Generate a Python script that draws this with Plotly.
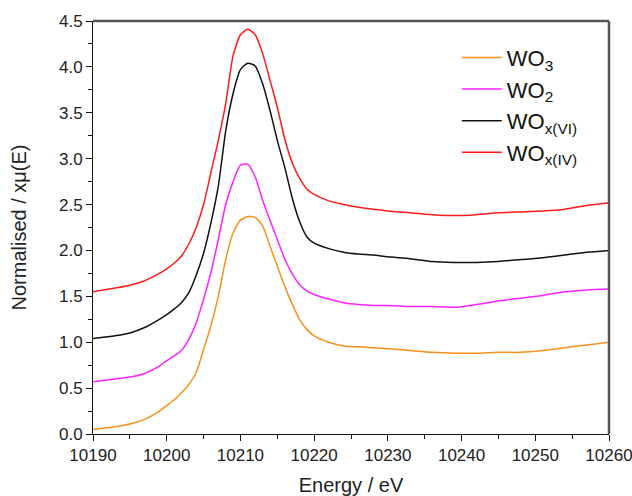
import plotly.graph_objects as go

energy = [10190, 10193, 10195, 10197, 10199, 10200, 10201, 10202, 10203, 10204,
          10205, 10206, 10207, 10208, 10209, 10210, 10211, 10212, 10213, 10214,
          10215, 10216, 10217, 10218, 10219, 10220, 10222, 10224, 10226, 10228,
          10230, 10233, 10236, 10239, 10242, 10245, 10248, 10251, 10254, 10257, 10260]

wo3 = [0.05, 0.08, 0.11, 0.16, 0.25, 0.31, 0.37, 0.45, 0.54, 0.67,
       0.92, 1.18, 1.50, 1.90, 2.19, 2.33, 2.37, 2.36, 2.27, 2.05,
       1.83, 1.61, 1.42, 1.25, 1.14, 1.07, 1.00, 0.96, 0.95, 0.94,
       0.93, 0.91, 0.89, 0.88, 0.88, 0.89, 0.89, 0.91, 0.94, 0.97, 1.00]

wo2 = [0.57, 0.60, 0.62, 0.66, 0.74, 0.80, 0.85, 0.91, 1.03, 1.21,
       1.47, 1.76, 2.12, 2.50, 2.75, 2.93, 2.94, 2.80, 2.55, 2.33,
       2.12, 1.91, 1.75, 1.63, 1.56, 1.52, 1.47, 1.43, 1.41, 1.40,
       1.40, 1.39, 1.39, 1.38, 1.41, 1.45, 1.48, 1.51, 1.55, 1.57, 1.58]

wox_vi = [1.04, 1.07, 1.10, 1.16, 1.25, 1.30, 1.36, 1.43, 1.54, 1.73,
          1.97, 2.30, 2.70, 3.30, 3.71, 3.97, 4.04, 4.01, 3.82, 3.53,
          3.20, 2.91, 2.58, 2.32, 2.15, 2.08, 2.02, 1.98, 1.96, 1.95,
          1.93, 1.91, 1.88, 1.87, 1.87, 1.88, 1.90, 1.92, 1.95, 1.98, 2.00]

wox_iv = [1.55, 1.59, 1.62, 1.67, 1.75, 1.80, 1.86, 1.94, 2.07, 2.25,
          2.50, 2.85, 3.20, 3.60, 4.12, 4.35, 4.41, 4.35, 4.15, 3.86,
          3.56, 3.22, 2.96, 2.79, 2.67, 2.61, 2.54, 2.50, 2.47, 2.45,
          2.43, 2.41, 2.39, 2.38, 2.39, 2.41, 2.42, 2.43, 2.45, 2.49, 2.52]

series_names = ["WO<sub>3</sub>", "WO<sub>2</sub>", "WO<sub>x(VI)</sub>", "WO<sub>x(IV)</sub>"]
series_values = [wo3, wo2, wox_vi, wox_iv]
series_colors = ["#F7901E", "#FF22FF", "#111111", "#FF1A1A"]

x_ticks = [10190, 10200, 10210, 10220, 10230, 10240, 10250, 10260]
y_ticks = [0.0, 0.5, 1.0, 1.5, 2.0, 2.5, 3.0, 3.5, 4.0, 4.5]

FONT = "Liberation Sans, Arial, sans-serif"

fig = go.Figure()
for name, vals, col in zip(series_names, series_values, series_colors):
    fig.add_trace(go.Scatter(x=energy, y=vals, mode="lines", name=name,
                             line=dict(color=col, width=1.5, shape="spline", smoothing=0.6)))

axis_common = dict(showgrid=False, zeroline=False, showline=True, linecolor="#111111",
                   linewidth=1, ticks="outside", ticklen=6, tickwidth=1, tickcolor="#111111",
                   automargin=False, ticklabeloverflow="allow",
                   tickfont=dict(family=FONT, size=17, color="#222222"))

fig.update_xaxes(range=[10190, 10260], tickvals=x_ticks, ticktext=[str(v) for v in x_ticks],
                 minor=dict(dtick=5, ticks="outside", ticklen=4, tickcolor="#111111"),
                 title=dict(text="Energy / eV", font=dict(family=FONT, size=20, color="#222222"),
                            standoff=16),
                 **axis_common)
fig.update_yaxes(range=[0, 4.5], tickvals=y_ticks, ticktext=[f"{v:.1f}" for v in y_ticks],
                 minor=dict(dtick=0.25, ticks="outside", ticklen=4, tickcolor="#111111"),
                 title=dict(text="Normalised / xμ(E)", font=dict(family=FONT, size=20, color="#222222"),
                            standoff=26),
                 **axis_common)

fig.add_shape(type="line", xref="paper", yref="paper", x0=0, x1=1, y0=1, y1=1,
              line=dict(color="#555555", width=2.5))
fig.add_shape(type="line", xref="paper", yref="paper", x0=1, x1=1, y0=0, y1=1,
              line=dict(color="#555555", width=2.5))

fig.update_layout(
    width=632, height=496,
    margin=dict(l=93, r=23, t=21, b=62),
    plot_bgcolor="white", paper_bgcolor="white",
    showlegend=True,
    legend=dict(x=0.705, y=0.962, xanchor="left", yanchor="top",
                bgcolor="rgba(0,0,0,0)", font=dict(family=FONT, size=22, color="#111111"),
                tracegroupgap=0, itemwidth=40),
)

fig.write_html("out.html", config={"displayModeBar": False},
               post_script="document.body.style.margin='0';document.body.style.overflow='hidden';")
